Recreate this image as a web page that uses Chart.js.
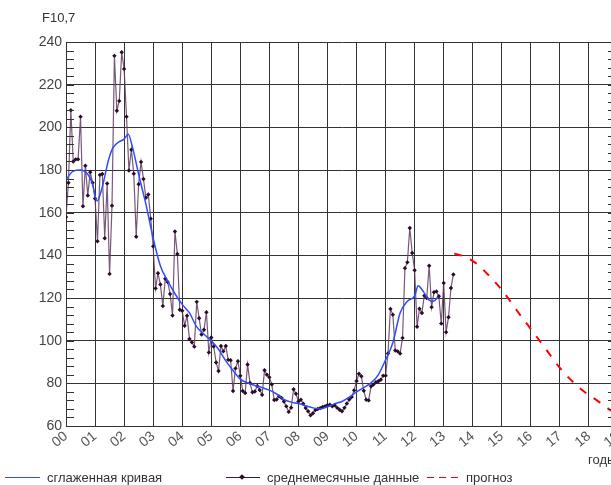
<!DOCTYPE html>
<html>
<head>
<meta charset="utf-8">
<script src="https://cdn.jsdelivr.net/npm/chart.js@4/dist/chart.umd.min.js"></script>
<style>
  body { margin: 0; background: #fff; font-family: "Liberation Sans", Arial, sans-serif; }
  #wrap { position: relative; width: 611px; height: 485px; overflow: hidden; }
  canvas { position: absolute; left: 0; top: 0; }
  .txt { position: absolute; font-size: 13px; color: #333; white-space: nowrap; line-height: 1; }
  .sample { position: absolute; height: 0; }
</style>
</head>
<body>
<div id="wrap">
  <canvas id="f107Chart" width="640" height="485"></canvas>
  <div class="txt" style="left:42px; top:11px;">F10,7</div>
  <div class="txt" style="left:588px; top:453px;">годы</div>

  <div class="sample" style="left:5px; top:477px; width:35px; border-top:1px solid #3050ff;"></div>
  <div class="txt" style="left:47px; top:471px;">сглаженная кривая</div>

  <div class="sample" style="left:226px; top:477px; width:34px; border-top:1px solid #3a1a3a;"></div>
  <div class="sample" style="left:240px; top:475px; width:4px; height:4px; background:#2a0a2a; transform:rotate(45deg);"></div>
  <div class="txt" style="left:267px; top:471px;">среднемесячные данные</div>

  <div class="sample" style="left:427px; top:477px; width:34px; height:1px; background:repeating-linear-gradient(to right, #ff0000 0 7px, transparent 7px 12px);"></div>
  <div class="txt" style="left:466px; top:471px;">прогноз</div>
</div>

<script>
// Tick labels for the year axis (2000 .. 2019)
const yearLabels = ['00', '01', '02', '03', '04', '05', '06', '07', '08', '09',
                    '10', '11', '12', '13', '14', '15', '16', '17', '18', '19'];

// Monthly mean F10.7, Jan 2000 .. May 2013
const monthlyF107 = [
    158, 174, 208, 184, 185, 185, 205, 163, 182, 168, 179, 174,                  // 2000
    166.6, 146.6, 177.7, 178.1, 148.0, 173.7, 131.3, 163.3, 233.5, 207.8, 212.4, 235.2, // 2001
    227.4, 205.0, 179.8, 189.5, 178.3, 148.7, 173.3, 183.8, 175.8, 167.0, 168.5, 157.2, // 2002
    144.2, 124.5, 131.6, 126.3, 116.2, 129.0, 127.5, 121.9, 111.8, 151.2, 140.6, 114.5, // 2003
    114.0, 107.0, 111.7, 100.8, 99.2, 97.2, 118.2, 110.5, 102.9, 105.1, 113.3, 94.5,    // 2004
    101.5, 97.3, 89.8, 85.8, 97.5, 95.0, 97.5, 91.0, 90.8, 76.4, 87.0, 90.4,           // 2005
    83.5, 76.4, 75.5, 88.8, 80.2, 75.8, 76.2, 78.8, 76.9, 74.6, 86.1, 84.0,            // 2006
    82.8, 79.5, 72.2, 72.4, 73.9, 73.2, 71.5, 69.2, 66.6, 68.6, 77.2, 75.1,            // 2007
    71.5, 72.3, 70.4, 68.4, 66.9, 65.0, 66.0, 67.5, 68.0, 68.4, 68.9, 69.2,            // 2008
    69.8, 70.0, 69.2, 69.7, 68.5, 67.6, 66.9, 68.5, 70.5, 72.4, 73.6, 76.7,            // 2009
    81.1, 84.5, 83.3, 76.5, 72.3, 72.0, 78.6, 79.4, 80.5, 81.0, 81.7, 83.6,            // 2010
    83.6, 94.0, 114.9, 112.2, 95.4, 95.0, 94.0, 101.3, 134.0, 136.7, 152.8, 141.1,     // 2011
    133.0, 106.5, 115.0, 113.0, 121.1, 120.0, 135.1, 115.7, 122.7, 123.1, 120.8, 108.0, // 2012
    127.0, 104.0, 111.0, 124.7, 131.0                                                  // 2013
];

// Smoothed curve (years since 2000 / value)
const smoothYears = [0.0, 0.25, 0.5, 0.75, 0.9, 1.07, 1.25, 1.45, 1.6, 1.8, 2.0, 2.14,
                     2.3, 2.5, 2.75, 3.0, 3.25, 3.5, 3.75, 4.0, 4.25, 4.5, 4.75, 5.0,
                     5.25, 5.5, 5.75, 6.0, 6.25, 6.5, 6.75, 7.0, 7.25, 7.5, 7.75, 8.0,
                     8.25, 8.5, 8.75, 9.0, 9.25, 9.5, 9.75, 10.0, 10.25, 10.5, 10.75, 11.0,
                     11.25, 11.5, 11.75, 12.0, 12.12, 12.3, 12.5, 12.65, 12.8];
const smoothValues = [175.5, 179.5, 180, 178, 174, 165.5, 172, 184, 190, 193, 194.5, 196.8,
                      190, 178, 164, 148, 135, 128, 122, 117, 113, 106.5, 103, 100,
                      96, 90.5, 86, 82, 80.2, 79, 78, 76.8, 75, 72.5, 71.2, 70.5,
                      69.5, 68.5, 68, 69, 70.5, 71.5, 73.5, 76, 78, 80.2, 84, 91,
                      99, 113, 118.5, 121, 125.8, 123, 119, 118.5, 120.5];

// Forecast (years since 2000 / value)
const forecastYears  = [13.36, 13.7, 14.07, 14.53, 15.04, 15.5, 16.02, 16.53, 17.0, 17.68, 18.37, 18.71, 19.0];
const forecastValues = [140.8, 139.5, 136.7, 130.9, 123.1, 114.5, 105.1, 95.8, 87.2, 77.8, 71.1, 67.7, 65.5];

// Minor tick positions on the value axis
const minorTicks = [];
for (let v = 60; v <= 240; v += 4) minorTicks.push(v);

const toPoints = (xs, ys) => xs.map((x, i) => ({ x: x, y: ys[i] }));

// short inward ticks on both sides of the plot
const minorTickPlugin = {
    id: 'minorTicks',
    afterDatasetsDraw(chart) {
        const { ctx, chartArea, scales } = chart;
        ctx.save();
        ctx.strokeStyle = '#333';
        ctx.lineWidth = 1;
        minorTicks.forEach(v => {
            const y = Math.round(scales.y.getPixelForValue(v)) + 0.5;
            ctx.beginPath();
            ctx.moveTo(chartArea.left, y);
            ctx.lineTo(chartArea.left + 8, y);
            ctx.moveTo(chartArea.right - 10, y);
            ctx.lineTo(chartArea.right, y);
            ctx.stroke();
        });
        ctx.restore();
    }
};

const ctx = document.getElementById('f107Chart').getContext('2d');
new Chart(ctx, {
    type: 'line',
    data: {
        datasets: [{
            label: 'сглаженная кривая',
            data: toPoints(smoothYears, smoothValues),
            borderColor: '#2f4cff',
            borderWidth: 1.5,
            pointRadius: 0,
            cubicInterpolationMode: 'monotone'
        }, {
            label: 'среднемесячные данные',
            data: monthlyF107.map((v, i) => ({ x: i / 12, y: v })),
            borderColor: 'rgba(95, 60, 95, 0.85)',
            borderWidth: 1.2,
            pointStyle: 'rectRot',
            pointRadius: 2.2,
            pointBackgroundColor: '#2a0a2a',
            pointBorderColor: '#2a0a2a',
            pointBorderWidth: 0,
            tension: 0
        }, {
            label: 'прогноз',
            data: toPoints(forecastYears, forecastValues),
            borderColor: '#ff0000',
            borderWidth: 2,
            borderDash: [8, 9],
            pointRadius: 0,
            cubicInterpolationMode: 'monotone'
        }]
    },
    options: {
        responsive: false,
        animation: false,
        layout: { padding: { top: 42, right: 22, left: 0, bottom: 0 } },
        plugins: {
            legend: { display: false },
            tooltip: { enabled: false }
        },
        scales: {
            x: {
                type: 'linear',
                min: 0,
                max: 19,
                afterFit: scale => { scale.height = 59; },
                ticks: {
                    stepSize: 1,
                    autoSkip: false,
                    minRotation: 40,
                    maxRotation: 40,
                    padding: 2,
                    color: '#555',
                    font: { family: 'Liberation Sans', size: 14 },
                    callback: v => yearLabels[v]
                },
                grid: { color: '#333', lineWidth: 1, drawTicks: false },
                border: { color: '#333' }
            },
            y: {
                min: 60,
                max: 240,
                afterFit: scale => { scale.width = 66; },
                ticks: {
                    stepSize: 20,
                    padding: 4,
                    color: '#444',
                    font: { family: 'Liberation Sans', size: 14 }
                },
                grid: { color: '#333', lineWidth: 1, drawTicks: false },
                border: { color: '#333' }
            }
        }
    },
    plugins: [minorTickPlugin]
});
</script>
</body>
</html>
